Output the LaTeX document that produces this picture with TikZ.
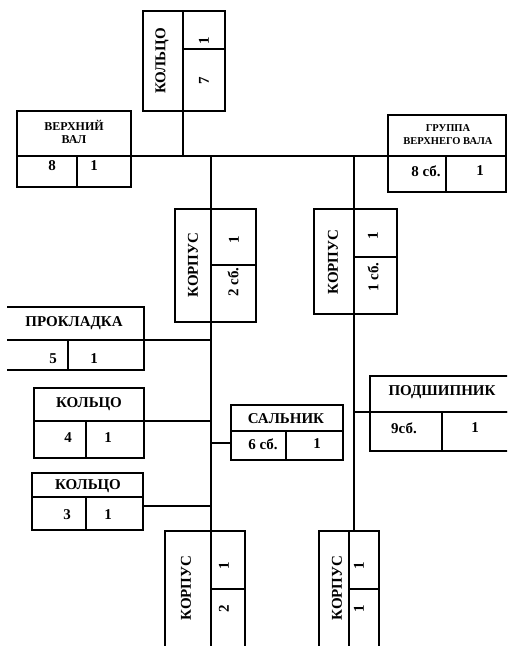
\documentclass[tikz,border=0pt]{standalone}
\usepackage{fontspec}
\setmainfont{Liberation Serif}
\usetikzlibrary{calc}

\newcommand\bigtxt{\bfseries\fontsize{15}{16}\selectfont}
\newcommand\midtxt{\bfseries\fontsize{12}{13}\selectfont}
\newcommand\smalltxt{\bfseries\fontsize{10.5}{13}\selectfont}

\tikzset{
  cell/.style={draw, line width=1.5pt, inner sep=0pt, outer sep=0pt, anchor=north west},
  link/.style={line width=1.4pt},
  lbl/.style={inner sep=0pt, font=\bigtxt, align=center},
  vlbl/.style={lbl, rotate=90},
}

\begin{document}
\begin{tikzpicture}[x=1pt, y=-1pt]
\useasboundingbox (0,0) rectangle (507,646);
\clip (0,0) rectangle (507,646);

% ring at the top (7)
\node[cell, minimum width=40, minimum height=100] (k7t) at (143,11) {};
\node[cell, minimum width=42, minimum height=38]  (k7a) at (183,11) {};
\node[cell, minimum width=42, minimum height=62]  (k7b) at (183,49) {};
\node[vlbl] (k7tx) at (162,61) {КОЛЬЦО};
\node[vlbl] (k7ax) at (204,41) {1};
\node[vlbl] (k7bx) at (204,81) {7};

% upper shaft (8)
\node[cell, minimum width=114, minimum height=45] (valt) at (17,111) {};
\node[cell, minimum width=60, minimum height=31]  (valn) at (17,156) {};
\node[cell, minimum width=54, minimum height=31]  (valq) at (77,156) {};
\node[lbl, font=\midtxt] (valtx) at (74,132) {ВЕРХНИЙ\\ВАЛ};
\node[lbl] (valnx) at (52,166) {8};
\node[lbl] (valqx) at (94,166) {1};

% upper shaft group (8 сб.)
\node[cell, minimum width=118, minimum height=41] (grt) at (388,115) {};
\node[cell, minimum width=58, minimum height=36]  (grn) at (388,156) {};
\node[cell, minimum width=60, minimum height=36]  (grq) at (446,156) {};
\node[lbl, font=\smalltxt] (grtx) at (448,135) {ГРУППА\\ВЕРХНЕГО ВАЛА};
\node[lbl] (grnx) at (426,171) {8 сб.};
\node[lbl] (grqx) at (480,171) {1};

% housing (2 сб.)
\node[cell, minimum width=36, minimum height=113] (k2t) at (175,209) {};
\node[cell, minimum width=45, minimum height=56]  (k2a) at (211,209) {};
\node[cell, minimum width=45, minimum height=57]  (k2b) at (211,265) {};
\node[vlbl] (k2tx) at (193,265) {КОРПУС};
\node[vlbl] (k2ax) at (234,240) {1};
\node[vlbl] (k2bx) at (233,282) {2 сб.};

% housing (1 сб.)
\node[cell, minimum width=40, minimum height=105] (k1t) at (314,209) {};
\node[cell, minimum width=43, minimum height=48]  (k1a) at (354,209) {};
\node[cell, minimum width=43, minimum height=57]  (k1b) at (354,257) {};
\node[vlbl] (k1tx) at (333,262) {КОРПУС};
\node[vlbl] (k1ax) at (373,236) {1};
\node[vlbl] (k1bx) at (373,277) {1 сб.};

% gasket (5), open on the left
\begin{scope}
\clip (7,300) rectangle (150,380);
\node[cell, minimum width=141, minimum height=33] (prt) at (3,307) {};
\node[cell, minimum width=65, minimum height=30]  (prn) at (3,340) {};
\node[cell, minimum width=76, minimum height=30]  (prq) at (68,340) {};
\end{scope}
\node[lbl] (prtx) at (74,323) {ПРОКЛАДКА};
\node[lbl] (prnx) at (53,359) {5};
\node[lbl] (prqx) at (94,359) {1};

% ring (4)
\node[cell, minimum width=110, minimum height=33] (k4t) at (34,388) {};
\node[cell, minimum width=52, minimum height=37]  (k4n) at (34,421) {};
\node[cell, minimum width=58, minimum height=37]  (k4q) at (86,421) {};
\node[lbl] (k4tx) at (89,404) {КОЛЬЦО};
\node[lbl] (k4nx) at (68,438) {4};
\node[lbl] (k4qx) at (108,438) {1};

% ring (3)
\node[cell, minimum width=111, minimum height=24] (k3t) at (32,473) {};
\node[cell, minimum width=54, minimum height=33]  (k3n) at (32,497) {};
\node[cell, minimum width=57, minimum height=33]  (k3q) at (86,497) {};
\node[lbl] (k3tx) at (88,486) {КОЛЬЦО};
\node[lbl] (k3nx) at (67,515) {3};
\node[lbl] (k3qx) at (108,515) {1};

% seal (6 сб.)
\node[cell, minimum width=112, minimum height=26] (st) at (231,405) {};
\node[cell, minimum width=55, minimum height=29]  (sn) at (231,431) {};
\node[cell, minimum width=57, minimum height=29]  (sq) at (286,431) {};
\node[lbl] (stx) at (286,419) {САЛЬНИК};
\node[lbl] (snx) at (263,444) {6 сб.};
\node[lbl] (sqx) at (317,444) {1};

% bearing (9 сб.)
\node[cell, minimum width=150, minimum height=36] (pt) at (370,376) {};
\node[cell, minimum width=72, minimum height=39]  (pn) at (370,412) {};
\node[cell, minimum width=78, minimum height=39]  (pq) at (442,412) {};
\node[lbl] (ptx) at (442,392) {ПОДШИПНИК};
\node[lbl] (pnx) at (404,428) {9сб.};
\node[lbl] (pqx) at (475,428) {1};

% housing (2)
\node[cell, minimum width=46, minimum height=117] (kb2t) at (165,531) {};
\node[cell, minimum width=34, minimum height=58]  (kb2a) at (211,531) {};
\node[cell, minimum width=34, minimum height=59]  (kb2b) at (211,589) {};
\node[vlbl] (kb2tx) at (186,588) {КОРПУС};
\node[vlbl] (kb2ax) at (224,566) {1};
\node[vlbl] (kb2bx) at (224,609) {2};

% housing (1)
\node[cell, minimum width=30, minimum height=117] (kb1t) at (319,531) {};
\node[cell, minimum width=30, minimum height=58]  (kb1a) at (349,531) {};
\node[cell, minimum width=30, minimum height=59]  (kb1b) at (349,589) {};
\node[vlbl] (kb1tx) at (337,588) {КОРПУС};
\node[vlbl] (kb1ax) at (359,566) {1};
\node[vlbl] (kb1bx) at (359,609) {1};

% main bus and the two trunks
\coordinate (jL) at (k2a.north west |- valt.south east);
\coordinate (jR) at (k1a.north west |- valt.south east);
\draw[link] (valt.south east) -- (grt.south west);
\draw[link] (k7t.south east) -- (k7t.south east |- valt.south east);
\draw[link] (jL) -- (k2a.north west);
\draw[link] (jR) -- (k1a.north west);
\draw[link] (k2a.south west |- k2t.south east) -- (kb2a.north west);
\draw[link] (k1a.south west |- k1t.south east) -- (k1a.south west |- kb1a.north);

% branches to the left trunk
\coordinate (k3c) at ($(k3q.north east)+(0,9)$);
\coordinate (sc) at ($(sn.north west)+(0,12)$);
\draw[link] (prt.south east) -- (prt.south east -| k2a.west);
\draw[link] (k4t.south east) -- (k4t.south east -| k2a.west);
\draw[link] (k3c) -- (k3c -| k2a.west);
\draw[link] (sc -| k2a.west) -- (sc);

% branch to the right trunk
\draw[link] (pt.south west -| k1a.west) -- (pt.south west);
\end{tikzpicture}
\end{document}
